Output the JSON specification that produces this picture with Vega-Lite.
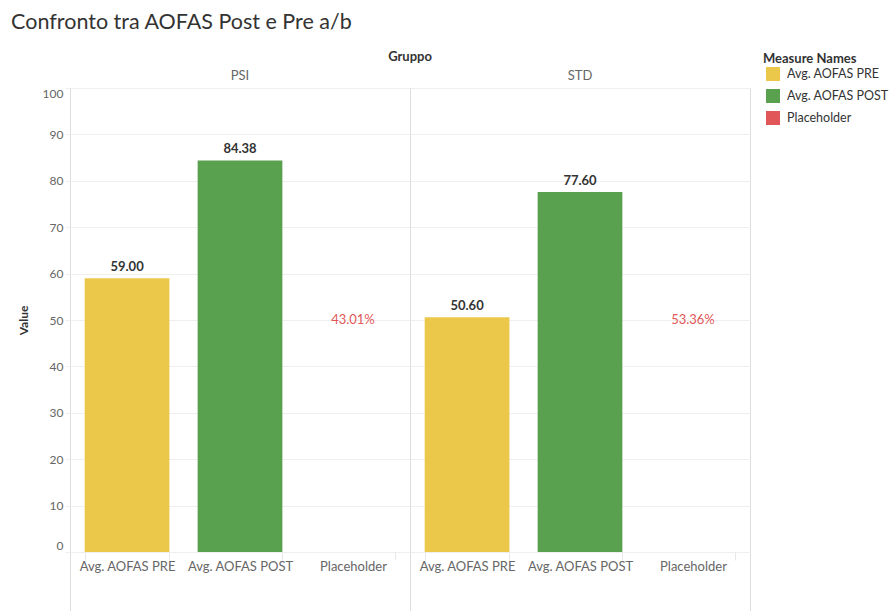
{
  "$schema": "https://vega.github.io/schema/vega-lite/v6.json",
  "padding": {"left": 11, "top": 11, "right": 0, "bottom": 0},
  "background": "white",
  "bounds": "flush",
  "title": {
    "text": "Confronto tra AOFAS Post e Pre a/b",
    "anchor": "start",
    "frame": "bounds",
    "fontSize": 21.5,
    "font": "Lato",
    "fontWeight": "normal",
    "color": "#333333",
    "dx": -6,
    "offset": 18
  },
  "data": {
    "values": [
      {"Gruppo": "PSI", "Measure": "Avg. AOFAS PRE", "value": 59.0},
      {"Gruppo": "PSI", "Measure": "Avg. AOFAS POST", "value": 84.38},
      {"Gruppo": "PSI", "Measure": "Placeholder", "value": 0.4301},
      {"Gruppo": "STD", "Measure": "Avg. AOFAS PRE", "value": 50.6},
      {"Gruppo": "STD", "Measure": "Avg. AOFAS POST", "value": 77.6},
      {"Gruppo": "STD", "Measure": "Placeholder", "value": 0.5336}
    ]
  },
  "facet": {
    "column": {
      "field": "Gruppo",
      "type": "nominal",
      "title": "Gruppo",
      "header": {
        "titleFontSize": 13,
        "titleFont": "Lato",
        "titleFontWeight": "bold",
        "titleColor": "#333333",
        "titlePadding": -4,
        "labelFontSize": 13,
        "labelFont": "Lato",
        "labelColor": "#666666",
        "labelPadding": 5
      }
    }
  },
  "spacing": 0,
  "spec": {
    "width": 340,
    "height": 524,
    "encoding": {
      "x": {
        "field": "Measure",
        "type": "nominal",
        "sort": ["Avg. AOFAS PRE", "Avg. AOFAS POST", "Placeholder"],
        "scale": {"paddingInner": 0.25, "paddingOuter": 0.13},
        "axis": {
          "title": null,
          "orient": "bottom",
          "offset": -60,
          "labelAngle": 0,
          "labelFont": "Lato",
          "labelFontSize": 13,
          "labelColor": "#666666",
          "labelPadding": 0,
          "domainColor": "#cccccc",
          "ticks": true,
          "tickBand": "extent",
          "tickSize": 8,
          "tickColor": "#e8e8e8",
          "grid": false
        }
      }
    },
    "layer": [
      {
        "transform": [{"filter": "datum.Measure !== 'Placeholder'"}],
        "mark": {"type": "bar"},
        "encoding": {
          "y": {
            "field": "value",
            "type": "quantitative",
            "scale": {"domain": [0, 100], "range": [464, 0], "nice": false, "zero": true},
            "axis": {
              "title": "Value",
              "titleFont": "Lato",
              "titleFontSize": 12,
              "titleFontWeight": "bold",
              "titleColor": "#333333",
              "titlePadding": 12,
              "values": [0, 10, 20, 30, 40, 50, 60, 70, 80, 90, 100],
              "labelFont": "Lato",
              "labelFontSize": 12,
              "labelColor": "#666666",
              "labelFlush": true,
              "labelPadding": 2,
              "domain": false,
              "ticks": true,
              "tickSize": 5,
              "tickColor": "#eeeeee",
              "grid": true,
              "gridColor": "#efefef"
            }
          },
          "color": {
            "field": "Measure",
            "type": "nominal",
            "scale": {
              "domain": ["Avg. AOFAS PRE", "Avg. AOFAS POST", "Placeholder"],
              "range": ["#EBC84A", "#59A14F", "#E15759"]
            },
            "legend": {
              "title": "Measure Names",
              "orient": "none",
              "legendX": 693,
              "legendY": -35,
              "titleFont": "Lato",
              "titleFontSize": 13,
              "titleFontWeight": "bold",
              "titleColor": "#333333",
              "titlePadding": 1,
              "labelFont": "Lato",
              "labelFontSize": 12.5,
              "labelColor": "#333333",
              "labelOffset": 7,
              "symbolOffset": 3,
              "symbolType": "square",
              "symbolSize": 196,
              "symbolStrokeWidth": 0,
              "symbolOpacity": 1,
              "rowPadding": 8
            }
          }
        }
      },
      {
        "transform": [{"filter": "datum.Measure !== 'Placeholder'"}],
        "mark": {"type": "text", "baseline": "bottom", "dy": -4, "font": "Lato", "fontSize": 13, "fontWeight": "bold", "color": "#333333"},
        "encoding": {
          "y": {"field": "value", "type": "quantitative"},
          "text": {"field": "value", "type": "quantitative", "format": ".2f"}
        }
      },
      {
        "transform": [{"filter": "datum.Measure === 'Placeholder'"}],
        "mark": {"type": "text", "baseline": "middle", "font": "Lato", "fontSize": 13, "color": "#E15759"},
        "encoding": {
          "y": {"datum": 50, "type": "quantitative"},
          "text": {"field": "value", "type": "quantitative", "format": ".2%"}
        }
      }
    ]
  },
  "config": {
    "view": {"stroke": "#dddddd", "strokeWidth": 1}
  }
}
